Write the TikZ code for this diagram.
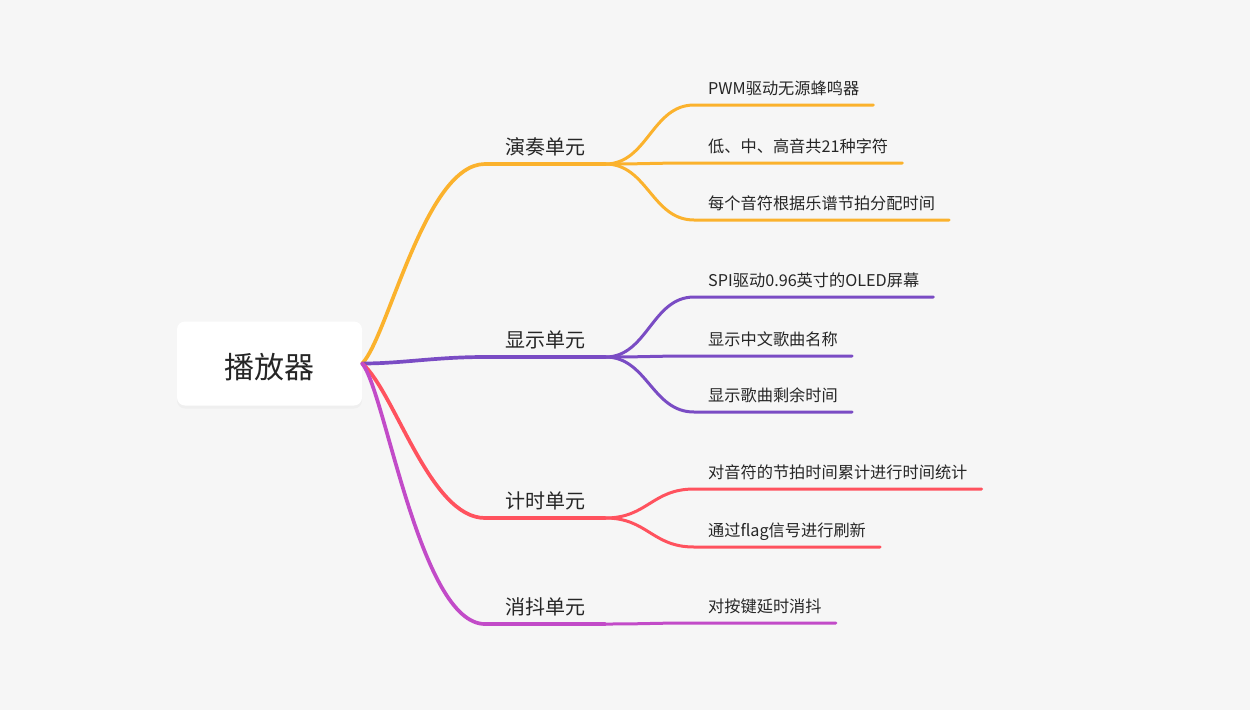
\documentclass[tikz,border=0pt]{standalone}
\usepackage{fontspec}
\setmainfont{Noto Sans CJK SC}
\usetikzlibrary{shadows}

\definecolor{bggray}{RGB}{246,246,246}
\definecolor{inkgray}{RGB}{38,38,38}
\definecolor{playorange}{RGB}{251,178,45}
\definecolor{showpurple}{RGB}{122,76,196}
\definecolor{timered}{RGB}{255,82,94}
\definecolor{keymagenta}{RGB}{194,75,200}

\begin{document}
\begin{tikzpicture}[x=1pt, y=-1pt,
    edge/.style={line width=3pt, line cap=round},
    trunk/.style={line width=3.7pt, line cap=round},
    rootbox/.style={fill=white, rounded corners=8pt, minimum width=185pt, minimum height=84pt,
      text height=34pt, text depth=4pt, text=inkgray, font=\fontsize{30}{36}\selectfont,
      drop shadow={opacity=0.06, shadow xshift=0pt, shadow yshift=-3pt}},
    unit/.style={anchor=south west, inner xsep=20pt, inner ysep=5pt, text depth=4pt,
      text=inkgray, font=\fontsize{20}{24}\selectfont},
    item/.style={anchor=south west, inner xsep=14pt, inner ysep=6pt, text depth=4pt,
      text=inkgray, font=\fontsize{16.2}{20}\selectfont}]
  \useasboundingbox (0,0) rectangle (1250,710);
  \fill[bggray] (0,0) rectangle (1250,710);

  % the player in the middle, the four units on its right
  \node[rootbox] (root) at (269.5,363.5) {播放器};
  \node[unit] (play) at (485,164) {演奏单元};
  \node[unit] (show) at (485,357) {显示单元};
  \node[unit] (time) at (485,518) {计时单元};
  \node[unit] (key)  at (485,624) {消抖单元};

  % what each unit does
  \node[item] (play1) at (694,105) {PWM驱动无源蜂鸣器};
  \node[item] (play2) at (694,163) {低、中、高音共21种字符};
  \node[item] (play3) at (694,220) {每个音符根据乐谱节拍分配时间};
  \node[item] (show1) at (694,297) {SPI驱动0.96英寸的OLED屏幕};
  \node[item] (show2) at (694,356) {显示中文歌曲名称};
  \node[item] (show3) at (694,412) {显示歌曲剩余时间};
  \node[item] (time1) at (694,489) {对音符的节拍时间累计进行时间统计};
  \node[item] (time2) at (694,547) {通过flag信号进行刷新};
  \node[item] (key1)  at (694,623) {对按键延时消抖};

  % leaves: from the end of the unit's underline to the underline of the item
  \draw[edge, playorange] (play.south east) .. controls +(42,0) and +(-42,0) .. (play1.south west) -- (play1.south east);
  \draw[edge, playorange] (play.south east) .. controls +(42,0) and +(-42,0) .. (play2.south west) -- (play2.south east);
  \draw[edge, playorange] (play.south east) .. controls +(42,0) and +(-42,0) .. (play3.south west) -- (play3.south east);
  \draw[edge, showpurple] (show.south east) .. controls +(42,0) and +(-42,0) .. (show1.south west) -- (show1.south east);
  \draw[edge, showpurple] (show.south east) .. controls +(42,0) and +(-42,0) .. (show2.south west) -- (show2.south east);
  \draw[edge, showpurple] (show.south east) .. controls +(42,0) and +(-42,0) .. (show3.south west) -- (show3.south east);
  \draw[edge, timered] (time.south east) .. controls +(42,0) and +(-42,0) .. (time1.south west) -- (time1.south east);
  \draw[edge, timered] (time.south east) .. controls +(42,0) and +(-42,0) .. (time2.south west) -- (time2.south east);
  \draw[edge, keymagenta] (key.south east) .. controls +(42,0) and +(-42,0) .. (key1.south west) -- (key1.south east);

  % branches from the player
  \draw[trunk, playorange] (root.east) .. controls +(26,-27) and +(-60,0) .. (play.south west) -- (play.south east);
  \draw[trunk, showpurple] (root.east) .. controls +(40,0) and +(-50,0) .. (show.south west) -- (show.south east);
  \draw[trunk, timered] (root.east) .. controls +(33,29) and +(-55,0) .. (time.south west) -- (time.south east);
  \draw[trunk, keymagenta] (root.east) .. controls +(23,27) and +(-65,0) .. (key.south west) -- (key.south east);
\end{tikzpicture}
\end{document}
